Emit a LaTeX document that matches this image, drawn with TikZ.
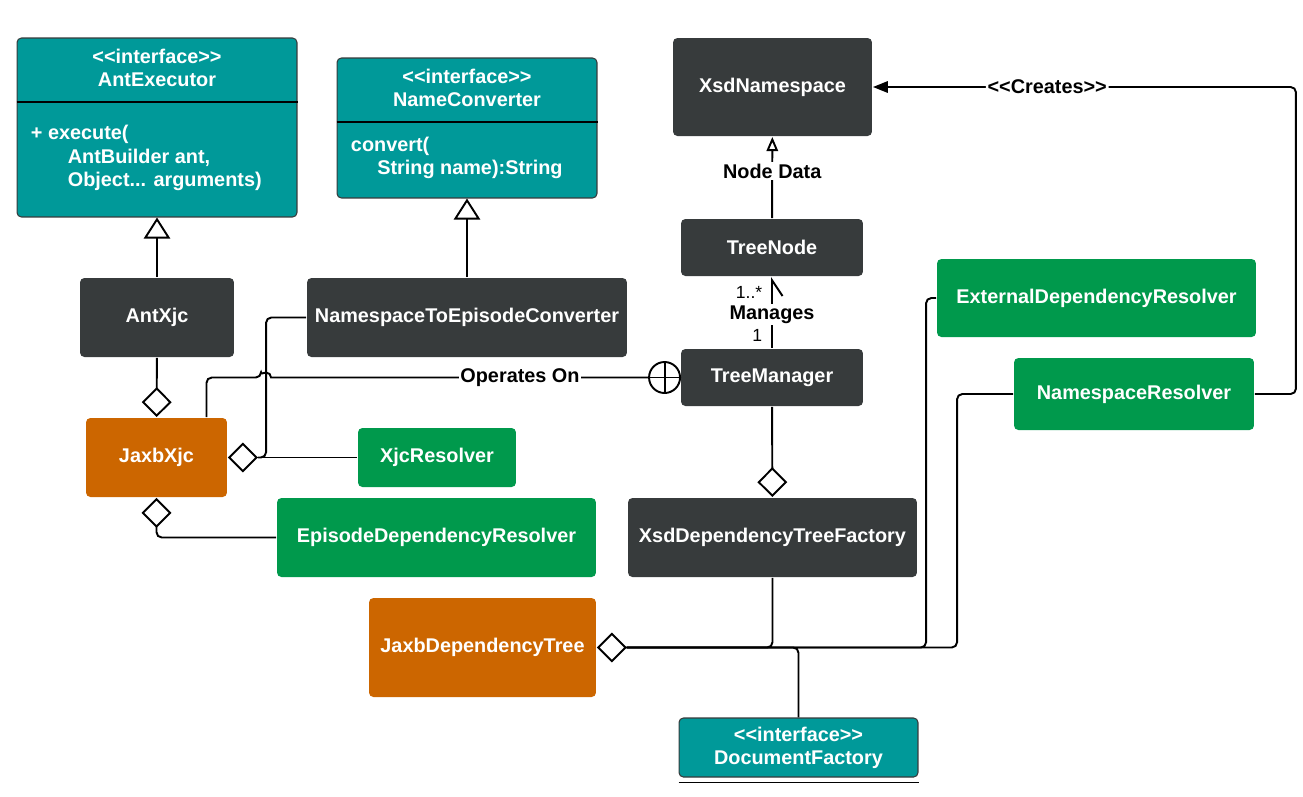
\documentclass[tikz,border=0pt]{standalone}
\usepackage{fontspec}
\setmainfont{Liberation Sans}[Ligatures=TeXOff]
\usetikzlibrary{arrows.meta}
\definecolor{umlteal}{RGB}{0,153,153}
\definecolor{umldark}{RGB}{55,59,60}
\definecolor{umlorange}{RGB}{204,102,0}
\definecolor{umlgreen}{RGB}{0,153,76}

\begin{document}
\begin{tikzpicture}[x=0.02cm, y=-0.02cm, line width=1.1pt,
  every node/.style={font=\fontsize{11.3}{13.2}\selectfont\bfseries},
  box/.style={rectangle, rounded corners=2.5pt, text=white, inner sep=0pt},
  darkbox/.style={box, fill=umldark},
  greenbox/.style={box, fill=umlgreen},
  orangebox/.style={box, fill=umlorange},
  ifacebox/.style={box, fill=umlteal, draw=umldark, line width=0.6pt, align=center},
  ifacetext/.style={text=white, inner sep=0pt},
  lbl/.style={fill=white, text=black, inner sep=1pt},
  mult/.style={font=\fontsize{10}{12}\selectfont, inner sep=0pt},
  gen/.style={-{Triangle[open, length=12pt, width=15pt, fill=white]}},
  agg/.style={-{Diamond[open, length=17pt, width=17pt, fill=white]}},
  nodedata/.style={-{Triangle[open, length=8pt, width=6.5pt, fill=white]}},
  creates/.style={-{Triangle[length=8.5pt, width=6.5pt]}},
  manages/.style={-{Straight Barb[right, length=9pt, width=12pt]}}]

\useasboundingbox (0,0) rectangle (1303,796);

% interfaces
\node[ifacebox, minimum width=5.6cm, minimum height=3.58cm] (antexec) at (157,127.5) {};
\draw[line width=0.7pt] (antexec.west |- 0,102) -- (antexec.east |- 0,102);
\node[ifacetext, align=center] (antexechead) at (157,67.5) {<<interface>>\\AntExecutor};
\node[ifacetext, align=left, anchor=west] (antexecbody) at (30,158)
  {+ execute(\\\hspace*{21pt}AntBuilder ant,\\\hspace*{21pt}Object... arguments)};

\node[ifacebox, minimum width=5.2cm, minimum height=2.8cm] (nameconv) at (467,128) {};
\draw[line width=0.7pt] (nameconv.west |- 0,122) -- (nameconv.east |- 0,122);
\node[ifacetext, align=center] (nameconvhead) at (467,87.5) {<<interface>>\\NameConverter};
\node[ifacetext, align=left, anchor=west] (nameconvbody) at (350,158)
  {convert(\\\hspace*{15pt}String name):String};

\node[ifacebox, minimum width=4.78cm, minimum height=1.18cm] (docfact) at (798.5,747.5) {<<interface>>\\DocumentFactory};
\draw[line width=0.6pt] ([yshift=-0.1cm]docfact.south west) -- ([yshift=-0.1cm]docfact.south east);

% classes
\node[darkbox, minimum width=3.08cm, minimum height=1.58cm] (antxjc) at (157,317.5) {AntXjc};
\node[darkbox, minimum width=6.4cm, minimum height=1.58cm] (nsconv) at (467,317.5) {NamespaceToEpisodeConverter};
\node[orangebox, minimum width=2.82cm, minimum height=1.58cm] (jaxbxjc) at (156.5,457.5) {JaxbXjc};
\node[greenbox, minimum width=3.16cm, minimum height=1.18cm] (xjcres) at (437,457.5) {XjcResolver};
\node[greenbox, minimum width=6.38cm, minimum height=1.58cm] (epres) at (436.5,537.5) {EpisodeDependencyResolver};
\node[darkbox, minimum width=3.98cm, minimum height=1.96cm] (xsdns) at (772.5,87) {XsdNamespace};
\node[darkbox, minimum width=3.64cm, minimum height=1.14cm] (treenode) at (772,247.5) {TreeNode};
\node[darkbox, minimum width=3.64cm, minimum height=1.14cm] (treemgr) at (772,377.5) {TreeManager};
\node[darkbox, minimum width=5.78cm, minimum height=1.58cm] (treefact) at (772.5,537.5) {XsdDependencyTreeFactory};
\node[orangebox, minimum width=4.54cm, minimum height=1.98cm] (jaxbtree) at (482.5,647.5) {JaxbDependencyTree};
\node[greenbox, minimum width=6.38cm, minimum height=1.56cm] (extres) at (1096.5,298) {ExternalDependencyResolver};
\node[greenbox, minimum width=4.8cm, minimum height=1.44cm] (nsres) at (1134,394) {NamespaceResolver};

\node[circle, draw, fill=white, minimum size=0.62cm, inner sep=0pt] (contain) at ([xshift=-0.31cm]treemgr.west) {};
\draw (contain.north) -- (contain.south) (contain.west) -- (contain.east);

% connectors
\draw[gen] (antxjc) -- (antexec);
\draw[gen] (nsconv) -- (nameconv);
\draw[agg] (antxjc) -- (jaxbxjc);
\draw[agg] (xjcres) -- (jaxbxjc);
\draw[agg, rounded corners=3pt] (epres.west) -| (jaxbxjc.south);

\coordinate (xjctip) at ([xshift=0.6cm]jaxbxjc.east);
\coordinate (bend) at ([xshift=-0.8cm]nsconv.west);
\draw[rounded corners=3pt] (nsconv.west) -- (bend) |- (xjctip);
\draw ([xshift=1cm]jaxbxjc.north) [rounded corners=3pt] |- ([xshift=-0.1cm]bend |- contain.west)
  [sharp corners] arc[start angle=180, end angle=0, radius=0.1cm] -- (contain.west);
\node[lbl] (operates) at (520,377.5) {Operates On};

\draw[nodedata] (treenode) -- (xsdns) node[lbl, pos=0.58] {Node Data};
\draw[manages] (treemgr) -- (treenode) node[lbl, pos=0.47] {Manages}
  node[mult, pos=0.18, left=5pt] {1} node[mult, pos=0.78, left=5pt] {1..*};
\draw[agg] (treemgr) -- (treefact);

\coordinate (treetip) at ([xshift=0.6cm]jaxbtree.east);
\draw[agg, rounded corners=3pt] (treefact.south) |- (jaxbtree.east);
\draw[rounded corners=3pt] (extres.west) -- ++(-10,0) |- (treetip);
\draw[rounded corners=3pt] (nsres.west) -- ++(-56,0) |- (treetip);
\draw[rounded corners=3pt] (docfact.north) |- (treetip);

\draw[creates, rounded corners=3pt] (nsres.east) -- ++(41,0) |- (xsdns.east)
  node[lbl, pos=0.794] {<<Creates>>};
\end{tikzpicture}
\end{document}
